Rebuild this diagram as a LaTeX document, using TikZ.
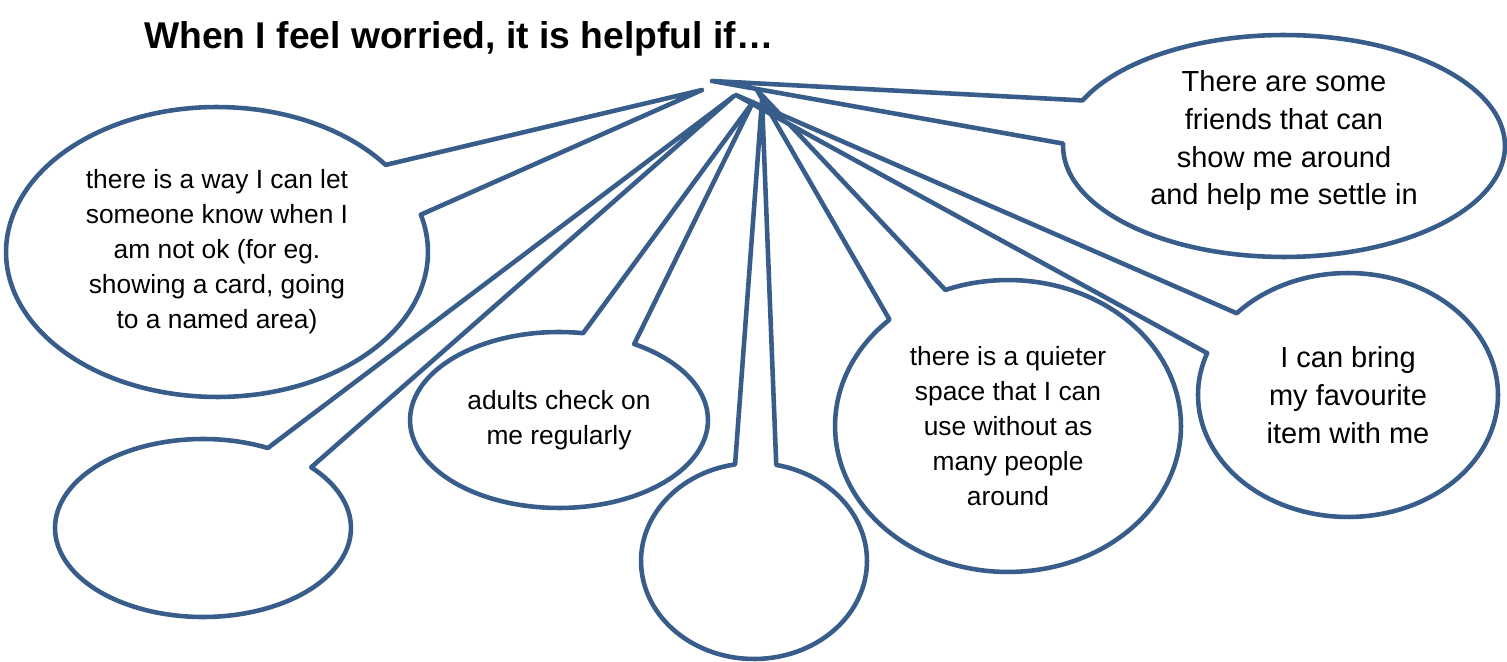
\documentclass[tikz,border=0pt]{standalone}
\usepackage{fontspec}
\setmainfont{Liberation Sans}
\usetikzlibrary{shapes.callouts}
\definecolor{bubbleblue}{RGB}{56,93,138}

\begin{document}
\begin{tikzpicture}[x=0.02cm,y=-0.02cm,
        bubble/.style={ellipse callout,draw=bubbleblue,line width=2.6pt,line join=round,fill=white,
          inner sep=0pt,align=center,font=\fontsize{15}{19.9}\selectfont},
        bigbubble/.style={bubble,font=\fontsize{16.5}{21.6}\selectfont}]
        \useasboundingbox (0,0) rectangle (1507,662);

        \node[anchor=base west,font=\bfseries\fontsize{21.2}{25}\selectfont] (title) at (138,49) {When I feel worried, it is helpful if…};

        \coordinate (friends tip) at (712,81);
        \coordinate (letknow tip) at (702,90);
        \coordinate (blankleft tip) at (734,96);
        \coordinate (adults tip) at (753,102);
        \coordinate (blankmid tip) at (762,100);
        \coordinate (quieter tip) at (757,90);
        \coordinate (favourite tip) at (736,95);

        \node[bigbubble,minimum width=8.84cm,minimum height=4.44cm,
          callout absolute pointer={(friends tip)},callout pointer arc=23] (friends) at (1284,146)
          {There are some\\friends that can\\show me around\\and help me settle in\\[-12pt]\mbox{}};
        \node[bubble,minimum width=8.44cm,minimum height=5.8cm,
          callout absolute pointer={(letknow tip)},callout pointer arc=22] (letknow) at (217,252)
          {there is a way I can let\\someone know when I\\am not ok (for eg.\\showing a card, going\\to a named area)};
        \node[bubble,minimum width=5.92cm,minimum height=3.56cm,
          callout absolute pointer={(blankleft tip)},callout pointer arc=21] (blankleft) at (203,528) {};
        \node[bubble,minimum width=5.96cm,minimum height=3.52cm,
          callout absolute pointer={(adults tip)},callout pointer arc=21] (adults) at (559,420)
          {adults check on\\me regularly};
        \node[bubble,minimum width=4.52cm,minimum height=3.92cm,
          callout absolute pointer={(blankmid tip)},callout pointer arc=21] (blankmid) at (754,561) {};
        \node[bubble,minimum width=6.92cm,minimum height=5.84cm,
          callout absolute pointer={(quieter tip)},callout pointer arc=22] (quieter) at (1008,426)
          {there is a quieter\\space that I can\\use without as\\many people\\around};
        \node[bigbubble,minimum width=6cm,minimum height=4.88cm,
          callout absolute pointer={(favourite tip)},callout pointer arc=22] (favourite) at (1348,395)
          {I can bring\\my favourite\\item with me};
\end{tikzpicture}
\end{document}
